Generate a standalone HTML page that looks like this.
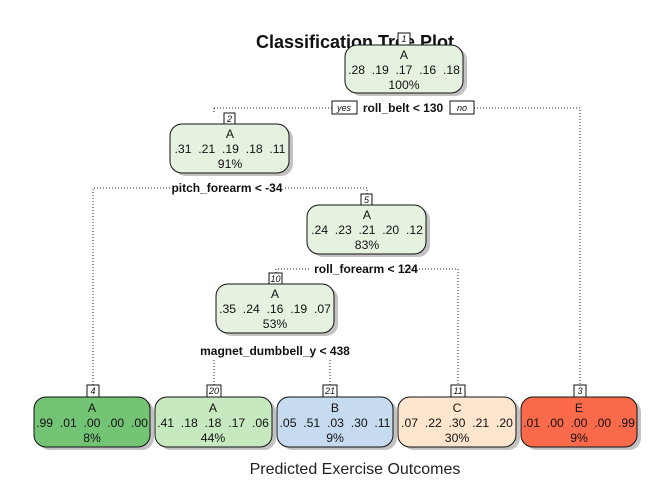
<!DOCTYPE html>
<html><head><meta charset="utf-8"><style>
html,body{margin:0;padding:0;background:#fff;}
svg{display:block;}
text{font-family:"Liberation Sans",Arial,sans-serif;white-space:pre;}
.n{font-size:12.2px;fill:#111;text-anchor:middle;}
.s{font-size:12px;font-weight:bold;fill:#111;text-anchor:middle;}
.l{font-size:9px;font-style:italic;fill:#111;text-anchor:middle;}
.d{stroke:#222;stroke-width:1;stroke-dasharray:1,2;fill:none;}
</style></head><body>
<svg width="672" height="480" viewBox="0 0 672 480" xmlns="http://www.w3.org/2000/svg">
<!-- connectors -->
<path class="d" d="M93,385 V188 H170 M285,188 H367 V195"/>
<path class="d" d="M214,108 H332 M474,108 H580 V385 M214,108 V113"/>
<path class="d" d="M276,273 V269 H310 M404,269 H458 V385"/>
<path class="d" d="M214,385 V360 M330,385 V360"/>
<text x="355" y="48" style="font-size:18px;font-weight:bold;text-anchor:middle;fill:#111">Classification Tree Plot</text>
<!-- nodes -->
<g>
<rect x="349" y="48" width="118" height="48" rx="12" fill="#999" opacity="0.6"/>
<rect x="345" y="45" width="118" height="48" rx="12" fill="#e5f2df" stroke="#111"/>
<rect x="398" y="33" width="12" height="12" fill="#fff" stroke="#111"/>
<text class="l" x="404" y="42">1</text>
<text class="n" x="404" y="59">A</text><text class="n" x="404" y="74">.28  .19  .17  .16  .18</text><text class="n" x="404" y="89">100%</text>
</g>
<rect x="332" y="101" width="25" height="13" fill="#fff" stroke="#111"/><text class="l" x="344" y="111">yes</text>
<text class="s" x="403" y="112">roll_belt &lt; 130</text>
<rect x="450" y="101" width="24" height="13" fill="#fff" stroke="#111"/><text class="l" x="462" y="111">no</text>
<g>
<rect x="174" y="127" width="119" height="49" rx="12" fill="#999" opacity="0.6"/>
<rect x="170" y="124" width="119" height="49" rx="12" fill="#e5f2df" stroke="#111"/>
<rect x="224" y="113" width="11" height="11" fill="#fff" stroke="#111"/><text class="l" x="229.5" y="122">2</text>
<text class="n" x="230" y="138">A</text><text class="n" x="230" y="153">.31  .21  .19  .18  .11</text><text class="n" x="230" y="168">91%</text>
</g>
<text class="s" x="227" y="192">pitch_forearm &lt; -34</text>
<g>
<rect x="311" y="208" width="119" height="49" rx="12" fill="#999" opacity="0.6"/>
<rect x="307" y="205" width="119" height="49" rx="12" fill="#e5f2df" stroke="#111"/>
<rect x="361" y="194" width="11" height="11" fill="#fff" stroke="#111"/><text class="l" x="366.5" y="203">5</text>
<text class="n" x="367" y="219">A</text><text class="n" x="367" y="234">.24  .23  .21  .20  .12</text><text class="n" x="367" y="249">83%</text>
</g>
<text class="s" x="366" y="273">roll_forearm &lt; 124</text>
<g>
<rect x="220" y="287" width="118" height="49" rx="12" fill="#999" opacity="0.6"/>
<rect x="216" y="284" width="118" height="49" rx="12" fill="#e5f2df" stroke="#111"/>
<rect x="269" y="273" width="13" height="11" fill="#fff" stroke="#111"/><text class="l" x="275.5" y="282">10</text>
<text class="n" x="275" y="298">A</text><text class="n" x="275" y="313">.35  .24  .16  .19  .07</text><text class="n" x="275" y="328">53%</text>
</g>
<text class="s" x="275" y="355">magnet_dumbbell_y &lt; 438</text>
<!-- leaves -->
<g>
<rect x="38" y="400" width="116" height="50" rx="12" fill="#999" opacity="0.6"/>
<rect x="34" y="397" width="116" height="50" rx="12" fill="#74c476" stroke="#111"/>
<rect x="87" y="385" width="12" height="12" fill="#fff" stroke="#111"/><text class="l" x="93" y="394">4</text>
<text class="n" x="92" y="412">A</text><text class="n" x="92" y="427">.99  .01  .00  .00  .00</text><text class="n" x="92" y="442">8%</text>
</g>
<g>
<rect x="159" y="400" width="117" height="50" rx="12" fill="#999" opacity="0.6"/>
<rect x="155" y="397" width="117" height="50" rx="12" fill="#c7e9c0" stroke="#111"/>
<rect x="207" y="385" width="14" height="12" fill="#fff" stroke="#111"/><text class="l" x="214" y="394">20</text>
<text class="n" x="213" y="412">A</text><text class="n" x="213" y="427">.41  .18  .18  .17  .06</text><text class="n" x="213" y="442">44%</text>
</g>
<g>
<rect x="281" y="400" width="116" height="50" rx="12" fill="#999" opacity="0.6"/>
<rect x="277" y="397" width="116" height="50" rx="12" fill="#c6dbef" stroke="#111"/>
<rect x="323" y="385" width="14" height="12" fill="#fff" stroke="#111"/><text class="l" x="330" y="394">21</text>
<text class="n" x="335" y="412">B</text><text class="n" x="335" y="427">.05  .51  .03  .30  .11</text><text class="n" x="335" y="442">9%</text>
</g>
<g>
<rect x="402" y="400" width="118" height="50" rx="12" fill="#999" opacity="0.6"/>
<rect x="398" y="397" width="118" height="50" rx="12" fill="#fee6ce" stroke="#111"/>
<rect x="451" y="385" width="14" height="12" fill="#fff" stroke="#111"/><text class="l" x="458" y="394">11</text>
<text class="n" x="457" y="412">C</text><text class="n" x="457" y="427">.07  .22  .30  .21  .20</text><text class="n" x="457" y="442">30%</text>
</g>
<g>
<rect x="525" y="400" width="116" height="50" rx="12" fill="#999" opacity="0.6"/>
<rect x="521" y="397" width="116" height="50" rx="12" fill="#fb6a4a" stroke="#111"/>
<rect x="574" y="385" width="12" height="12" fill="#fff" stroke="#111"/><text class="l" x="580" y="394">3</text>
<text class="n" x="579" y="412">E</text><text class="n" x="579" y="427">.01  .00  .00  .00  .99</text><text class="n" x="579" y="442">9%</text>
</g>
<text x="355" y="474" style="font-size:16px;text-anchor:middle;fill:#222">Predicted Exercise Outcomes</text>
</svg>
</body></html>
